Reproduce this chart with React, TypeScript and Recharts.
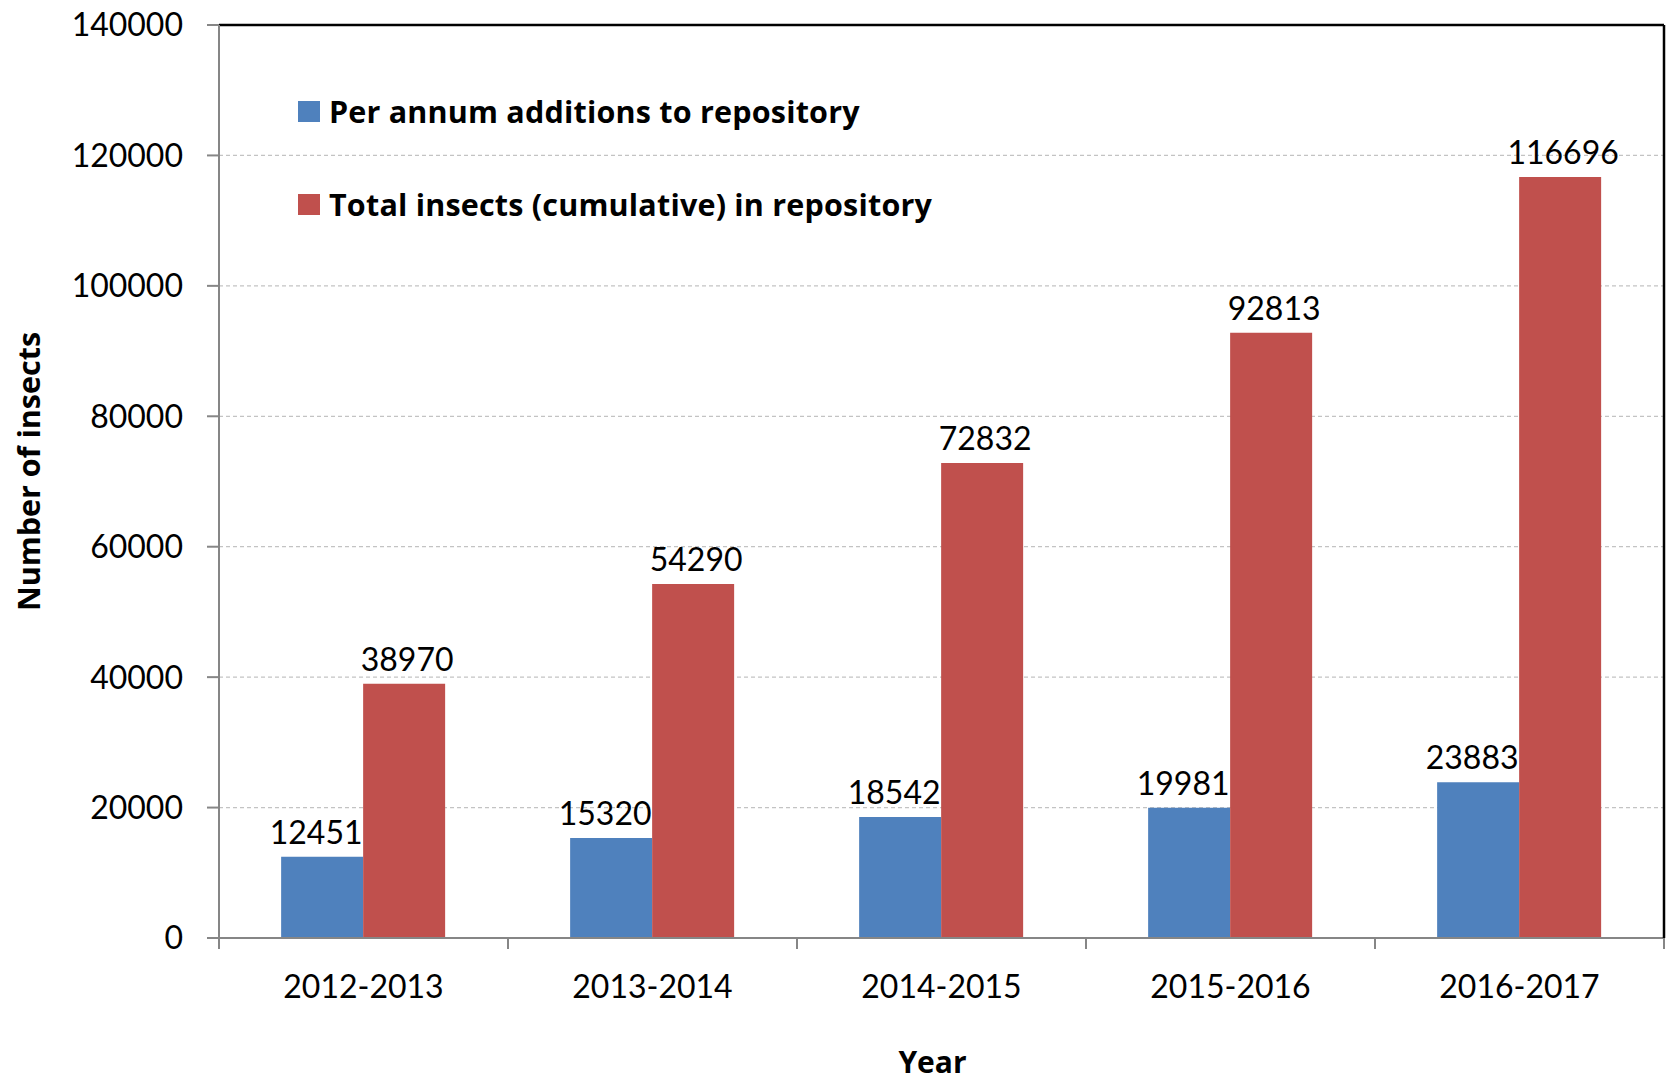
import React from 'react';
import { BarChart, Bar, XAxis, YAxis, CartesianGrid, Legend, LabelList, Label, ReferenceLine } from 'recharts';

const categories = ['2012-2013', '2013-2014', '2014-2015', '2015-2016', '2016-2017'];
const perAnnum = [12451, 15320, 18542, 19981, 23883];
const cumulative = [38970, 54290, 72832, 92813, 116696];
const yTicks = [0, 20000, 40000, 60000, 80000, 100000, 120000, 140000];
const seriesNames = ['Per annum additions to repository', 'Total insects (cumulative) in repository'];
const colors = ['#4F81BD', '#C0504D'];
const yMax = 140000;

const data = categories.map((c, i) => ({ year: c, perAnnum: perAnnum[i], cumulative: cumulative[i] }));

const FONT = 'Lato, "Open Sans", sans-serif';
const BOLD_FONT = '"Open Sans", Lato, sans-serif';
const AXIS = '#868686';
const X_TICK_MARGIN = 37;

const LegendContent = (props: any) => {
  const payload = props.payload || [];
  return (
    <div style={{ fontFamily: BOLD_FONT, fontWeight: 700, fontSize: 30.5, color: '#000' }}>
      {payload.map((p: any, i: number) => (
        <div key={i} style={{ display: 'flex', alignItems: 'center', height: 40, marginBottom: i === 0 ? 53 : 0 }}>
          <div style={{ width: 22, height: 21, background: p.color, marginRight: 9 }} />
          <span style={{ lineHeight: '40px', whiteSpace: 'nowrap', letterSpacing: 0.2 }}>{p.value}</span>
        </div>
      ))}
    </div>
  );
};

const XTick = (props: any) => {
  const { x, y, payload, index, visibleTicksCount } = props;
  const half = payload.offset || 0;
  const axisY = y - X_TICK_MARGIN;
  const last = index === (visibleTicksCount ?? categories.length) - 1;
  return (
    <g>
      <line x1={x - half} x2={x - half} y1={axisY} y2={axisY + 11} stroke={AXIS} strokeWidth={2} />
      {last && <line x1={x + half} x2={x + half} y1={axisY} y2={axisY + 11} stroke={AXIS} strokeWidth={2} />}
      <text x={x} y={y} dy="0.71em" textAnchor="middle" fontFamily={FONT} fontSize={32} fill="#000">{payload.value}</text>
    </g>
  );
};

const YTitle = (props: any) => {
  const vb = props.viewBox || { x: 0, y: 0, width: 0, height: 0 };
  const cx = vb.x + 28;
  const cy = vb.y + vb.height / 2 - 10;
  return (
    <text x={cx} y={cy} transform={`rotate(-90 ${cx} ${cy})`} textAnchor="middle" dominantBaseline="central"
      fontFamily={BOLD_FONT} fontWeight={700} fontSize={30.5} fill="#000">Number of insects</text>
  );
};

const XTitle = (props: any) => {
  const vb = props.viewBox || { x: 0, y: 0, width: 0, height: 0 };
  const cx = vb.x + vb.width / 2 - 9;
  const cy = vb.y + vb.height - 8;
  return (
    <text x={cx} y={cy} textAnchor="middle" fontFamily={BOLD_FONT} fontWeight={700} fontSize={30} fill="#000">Year</text>
  );
};

export default function App() {
  return (
    <div style={{ position: 'absolute', left: 0, top: 0, width: 1667, height: 1081, background: '#fff' }}>
      <BarChart width={1667} height={1081} data={data}
        margin={{ top: 25, right: 0, bottom: 0, left: 0 }}
        barCategoryGap="21.5%" barGap={0}>
        <CartesianGrid vertical={false} stroke="#C3C3C3" strokeDasharray="4 3" strokeWidth={1.3} />
        <XAxis dataKey="year" height={143} axisLine={{ stroke: AXIS, strokeWidth: 2 }} tickLine={false}
          tickSize={0} tickMargin={X_TICK_MARGIN} interval={0} tick={<XTick />}>
          <Label content={<XTitle />} />
        </XAxis>
        <YAxis width={219} domain={[0, yMax]} ticks={yTicks} interval={0}
          axisLine={{ stroke: AXIS, strokeWidth: 2 }} tickLine={{ stroke: AXIS, strokeWidth: 2 }}
          tickSize={12} tickMargin={24}
          tick={{ fontFamily: FONT, fontSize: 32, fill: '#000' }}>
          <Label content={<YTitle />} />
        </YAxis>
        <YAxis yAxisId="r" orientation="right" width={3} domain={[0, yMax]} tick={false} tickLine={false}
          axisLine={{ stroke: '#000', strokeWidth: 2.5 }} />
        <ReferenceLine y={yMax} stroke="#000" strokeWidth={2.5} />
        <Legend layout="vertical" align="center" verticalAlign="middle"
          wrapperStyle={{ left: 298, top: 91, width: 'auto', height: 'auto' }}
          content={<LegendContent />} />
        <Bar dataKey="perAnnum" name={seriesNames[0]} fill={colors[0]} isAnimationActive={false}>
          <LabelList dataKey="perAnnum" position="top" offset={13} dx={-6}
            style={{ fontFamily: FONT, fontSize: 32, fill: '#000' }} />
        </Bar>
        <Bar dataKey="cumulative" name={seriesNames[1]} fill={colors[1]} isAnimationActive={false}>
          <LabelList dataKey="cumulative" position="top" offset={13} dx={3}
            style={{ fontFamily: FONT, fontSize: 32, fill: '#000' }} />
        </Bar>
      </BarChart>
    </div>
  );
}
